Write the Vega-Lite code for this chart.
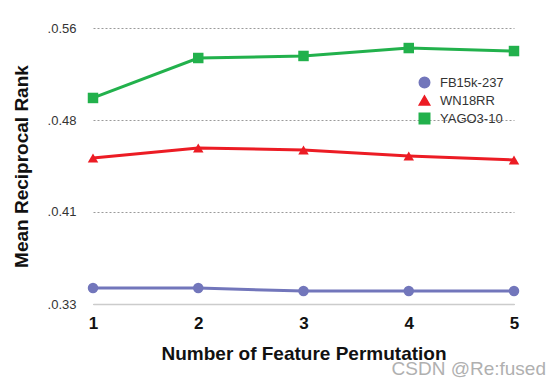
{
  "$schema": "https://vega.github.io/schema/vega-lite/v6.json",
  "width": 421,
  "height": 276,
  "autosize": {"type": "none"},
  "padding": {"left": 93, "top": 28, "right": 40, "bottom": 79},
  "background": "white",
  "config": {
    "view": {"stroke": null},
    "font": "Liberation Sans"
  },
  "title": {
    "text": "CSDN @Re:fused",
    "orient": "bottom",
    "anchor": "end",
    "color": "#b0b0b0",
    "fontSize": 19,
    "fontWeight": "normal",
    "font": "Liberation Sans",
    "dx": 26,
    "offset": -3
  },
  "data": {
    "values": [
      {"perm": 1, "dataset": "FB15k-237", "mrr": 0.3433},
      {"perm": 2, "dataset": "FB15k-237", "mrr": 0.3433},
      {"perm": 3, "dataset": "FB15k-237", "mrr": 0.3408},
      {"perm": 4, "dataset": "FB15k-237", "mrr": 0.3408},
      {"perm": 5, "dataset": "FB15k-237", "mrr": 0.3408},
      {"perm": 1, "dataset": "WN18RR", "mrr": 0.4517},
      {"perm": 2, "dataset": "WN18RR", "mrr": 0.4600},
      {"perm": 3, "dataset": "WN18RR", "mrr": 0.4583},
      {"perm": 4, "dataset": "WN18RR", "mrr": 0.4533},
      {"perm": 5, "dataset": "WN18RR", "mrr": 0.4500},
      {"perm": 1, "dataset": "YAGO3-10", "mrr": 0.5017},
      {"perm": 2, "dataset": "YAGO3-10", "mrr": 0.5350},
      {"perm": 3, "dataset": "YAGO3-10", "mrr": 0.5367},
      {"perm": 4, "dataset": "YAGO3-10", "mrr": 0.5433},
      {"perm": 5, "dataset": "YAGO3-10", "mrr": 0.5408}
    ]
  },
  "encoding": {
    "x": {
      "field": "perm",
      "type": "quantitative",
      "scale": {"domain": [1, 5], "nice": false, "zero": false},
      "axis": {
        "title": "Number of Feature Permutation",
        "values": [1, 2, 3, 4, 5],
        "format": "d",
        "grid": false,
        "ticks": false,
        "domainColor": "#cccccc",
        "domainWidth": 1.5,
        "labelFontSize": 17,
        "labelFontWeight": "bold",
        "labelColor": "#111111",
        "labelPadding": 11,
        "labelFlush": false,
        "titleFontSize": 19,
        "titleFontWeight": "bold",
        "titleColor": "#111111",
        "titlePadding": 13
      }
    },
    "y": {
      "field": "mrr",
      "type": "quantitative",
      "scale": {"domain": [0.33, 0.56], "nice": false, "zero": false},
      "axis": {
        "title": "Mean Reciprocal Rank",
        "values": [0.33, 0.406667, 0.483333, 0.56],
        "labelExpr": "'.' + format(datum.value, '.2f')",
        "domain": false,
        "ticks": false,
        "grid": true,
        "gridDash": [2, 2],
        "gridColor": "#9a9a9a",
        "gridWidth": 1,
        "labelFontSize": 13,
        "labelColor": "#333333",
        "labelPadding": 17,
        "labelFlush": false,
        "titleFontSize": 19,
        "titleFontWeight": "bold",
        "titleColor": "#111111",
        "titlePadding": 16
      }
    },
    "color": {
      "field": "dataset",
      "type": "nominal",
      "scale": {
        "domain": ["FB15k-237", "WN18RR", "YAGO3-10"],
        "range": ["#7276bb", "#ec1c24", "#22b14c"]
      },
      "legend": {
        "title": null,
        "orient": "none",
        "legendX": 325,
        "legendY": 48,
        "labelFontSize": 13,
        "labelColor": "#333333",
        "symbolSize": 110,
        "rowPadding": 1,
        "labelOffset": 9
      }
    },
    "shape": {
      "field": "dataset",
      "type": "nominal",
      "scale": {
        "domain": ["FB15k-237", "WN18RR", "YAGO3-10"],
        "range": ["circle", "triangle-up", "square"]
      },
      "legend": null
    }
  },
  "layer": [
    {
      "mark": {"type": "line", "strokeWidth": 3}
    },
    {
      "mark": {"type": "point", "filled": true, "opacity": 1, "size": 110}
    }
  ]
}
